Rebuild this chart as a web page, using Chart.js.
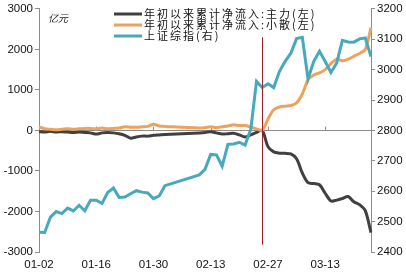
<!DOCTYPE html>
<html>
<head>
<meta charset="utf-8">
<script src="https://cdn.jsdelivr.net/npm/chart.js@4.4.0/dist/chart.umd.min.js"></script>
<style>
html, body { margin: 0; padding: 0; background: #fff; }
</style>
</head>
<body>
<canvas id="chart" width="406" height="272"></canvas>
<script>
// trading days (weekdays, spring festival week has no data)
const dates = [
  '01-02','01-03','01-04','01-07','01-08','01-09','01-10','01-11','01-14','01-15',
  '01-16','01-17','01-18','01-21','01-22','01-23','01-24','01-25','01-28','01-29',
  '01-30','01-31','02-01','02-04','02-05','02-06','02-07','02-08','02-11','02-12',
  '02-13','02-14','02-15','02-18','02-19','02-20','02-21','02-22','02-25','02-26',
  '02-27','02-28','03-01','03-04','03-05','03-06','03-07','03-08','03-11','03-12',
  '03-13','03-14','03-15','03-18','03-19','03-20','03-21','03-22','03-25'
]

// 年初以来累计净流入:主力 (亿元)
const mainFlow = [
  -30, -40, -20, -40, -30, -40, -50, -40, -50, -60,
  -90, -60, -50, -60, -80, -120, -190, -160, -140, -140,
  -120, -110, -100, null, null, null, null, null, -60, -50,
  -30, -60, -90, -80, -70, -110, -160, -110, -50, 0,
  -400, -530, -560, -565, -580, -700, -1050, -1290, -1310, -1340,
  -1550, -1740, -1720, -1680, -1630, -1760, -1830, -1980, -2520
]

// 年初以来累计净流入:小散 (亿元)
const retailFlow = [
  90, 40, 30, 20, 30, 40, 30, 40, 50, 50,
  40, 60, 40, 50, 60, 90, 80, 80, 90, 100,
  150, 110, 100, null, null, null, null, null, 60, 70,
  90, 70, 90, 110, 140, 120, 120, 80, 40, 0,
  280, 510, 580, 600, 615, 680, 900, 1250, 1370, 1420,
  1500, 1650, 1760, 1720, 1760, 1830, 1900, 2000, 2540
]

// 上证综指
const sseIndex = [
  2465.3, 2464.4, 2514.9, 2533.1, 2526.5, 2544.3, 2535.1, 2553.8, 2535.8, 2570.4,
  2570.3, 2559.6, 2596.0, 2610.5, 2579.7, 2581.0, 2591.7, 2601.7, 2597.0, 2594.3,
  2575.6, 2584.6, 2618.2, null, null, null, null, null, 2653.9, 2671.9,
  2721.1, 2719.7, 2682.4, 2754.4, 2755.7, 2761.2, 2751.8, 2804.2, 2961.3, 2941.5,
  2953.8, 2941.0, 2994.0, 3027.6, 3054.3, 3102.1, 3106.4, 2969.9, 3027.0, 3060.3,
  3027.0, 2990.7, 3021.8, 3096.4, 3091.0, 3090.6, 3101.5, 3104.2, 3043.0
]

const seriesNames = ['年初以来累计净流入:主力(左)', '年初以来累计净流入:小散(左)', '上证综指(右)']
const seriesColors = ['#404040', '#EBA35E', '#48A8BC']
const unitLabel = '亿元'
const markerDate = '02-26'
const labelEvery = 10

const ctx = document.getElementById('chart').getContext('2d')

const decorations = {
  id: 'decorations',
  beforeDatasetsDraw(chart) {
    const { ctx, chartArea, scales } = chart
    const y0 = Math.round(scales.y.getPixelForValue(0)) + 0.5
    ctx.save()
    ctx.strokeStyle = '#8c8c8c'
    ctx.lineWidth = 1
    ctx.beginPath()
    ctx.moveTo(chartArea.left, y0)
    ctx.lineTo(chartArea.right, y0)
    dates.forEach((d, i) => {
      if (i > 0 && i % labelEvery === 0) {
        const x = Math.round(scales.x.getPixelForValue(i)) + 0.5
        ctx.moveTo(x, y0)
        ctx.lineTo(x, y0 - 4)
      }
    })
    ctx.stroke()
    ctx.restore()
  },
  afterDatasetsDraw(chart) {
    const { ctx, scales } = chart
    const x = Math.round(scales.x.getPixelForValue(dates.indexOf(markerDate))) + 0.5
    ctx.save()
    ctx.strokeStyle = '#9E1F26'
    ctx.lineWidth = 1
    ctx.beginPath()
    ctx.moveTo(x, scales.y.getPixelForValue(2300))
    ctx.lineTo(x, scales.y.getPixelForValue(-2820))
    ctx.stroke()

    // unit label
    ctx.fillStyle = '#222'
    ctx.font = 'italic 10px "Noto Sans CJK SC"'
    ctx.textBaseline = 'middle'
    ctx.fillText(unitLabel, 48, 18)

    // legend
    ctx.font = '11px "Noto Sans CJK SC"'
    ctx.letterSpacing = '2px'
    seriesNames.forEach((name, i) => {
      const y = 14 + i * 11
      ctx.strokeStyle = seriesColors[i]
      ctx.lineWidth = 3
      ctx.beginPath()
      ctx.moveTo(114, y)
      ctx.lineTo(142, y)
      ctx.stroke()
      ctx.fillStyle = '#111'
      ctx.fillText(name, 144, y)
    })
    ctx.restore()
  }
}

const tickFont = { family: 'Liberation Sans', size: 11.5 }

new Chart(ctx, {
  type: 'line',
  data: {
    labels: dates,
    datasets: [
      {
        label: seriesNames[0],
        data: mainFlow,
        yAxisID: 'y',
        borderColor: seriesColors[0],
        borderWidth: 3,
        tension: 0.3,
        spanGaps: true,
        pointRadius: 0,
        order: 2
      },
      {
        label: seriesNames[1],
        data: retailFlow,
        yAxisID: 'y',
        borderColor: seriesColors[1],
        borderWidth: 3,
        tension: 0.3,
        spanGaps: true,
        pointRadius: 0,
        order: 1
      },
      {
        label: seriesNames[2],
        data: sseIndex,
        yAxisID: 'y1',
        borderColor: seriesColors[2],
        borderWidth: 3,
        tension: 0,
        spanGaps: true,
        pointRadius: 0,
        order: 0
      }
    ]
  },
  options: {
    responsive: false,
    animation: false,
    layout: { padding: 0 },
    plugins: {
      legend: { display: false },
      tooltip: { enabled: false }
    },
    scales: {
      x: {
        offset: false,
        grid: { display: false, drawTicks: false },
        border: { display: false },
        ticks: {
          autoSkip: false,
          maxRotation: 0,
          padding: 6,
          color: '#111',
          font: tickFont,
          callback: (v, i) => (i % labelEvery === 0 ? dates[i] : '')
        },
        afterFit: s => { s.height = 20 }
      },
      y: {
        position: 'left',
        min: -3000,
        max: 3000,
        grid: { drawOnChartArea: false, tickLength: 4, color: '#8c8c8c' },
        border: { color: '#8c8c8c' },
        ticks: {
          stepSize: 1000,
          padding: 2,
          color: '#111',
          font: tickFont,
          callback: v => String(v)
        },
        afterFit: s => { s.width = 39 }
      },
      y1: {
        position: 'right',
        min: 2400,
        max: 3200,
        grid: { drawOnChartArea: false, tickLength: 4, color: '#8c8c8c' },
        border: { color: '#8c8c8c' },
        ticks: {
          stepSize: 100,
          padding: 2,
          color: '#111',
          font: tickFont,
          callback: v => String(v)
        },
        afterFit: s => { s.width = 35 }
      }
    }
  },
  plugins: [decorations]
})
</script>
</body>
</html>
